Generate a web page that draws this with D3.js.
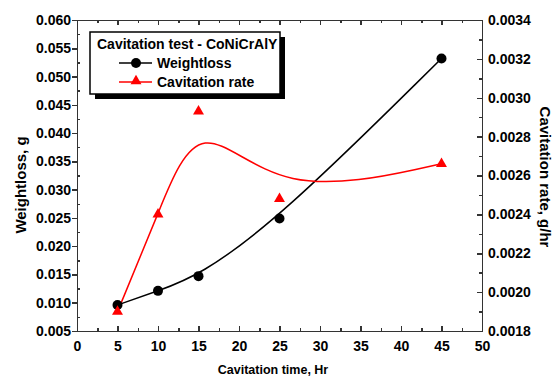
<!DOCTYPE html>
<meta charset="utf-8">
<style>

body {
  margin: 0;
  background: #fff;
}

svg {
  font-family: "Liberation Sans", Arial, sans-serif;
  font-weight: bold;
}

.axis path,
.axis line {
  stroke: #333;
  stroke-width: 1.5;
  shape-rendering: crispEdges;
}

.axis text {
  font-size: 14px;
  fill: #000;
}

.title {
  fill: #000;
}

</style>
<body>
<script src="https://cdn.jsdelivr.net/npm/d3@7"></script>
<script>

var hours = [5, 10, 15, 25, 45];
var weightloss = [0.0096, 0.0121, 0.0147, 0.0249, 0.0532];
var cavRate = [0.00190, 0.00240, 0.00293, 0.00248, 0.00266];

var xTicks = [0, 5, 10, 15, 20, 25, 30, 35, 40, 45, 50];
var yLeftTicks = [0.005, 0.010, 0.015, 0.020, 0.025, 0.030, 0.035, 0.040, 0.045, 0.050, 0.055, 0.060];
var yRightTicks = [0.0018, 0.0020, 0.0022, 0.0024, 0.0026, 0.0028, 0.0030, 0.0032, 0.0034];

var width = 559,
    height = 376,
    margin = {top: 20, right: 77, bottom: 45, left: 77};

var x = d3.scaleLinear()
    .domain([0, 50])
    .range([margin.left, width - margin.right]);

var yL = d3.scaleLinear()
    .domain([0.005, 0.060])
    .range([height - margin.bottom, margin.top]);

var yR = d3.scaleLinear()
    .domain([0.0018, 0.0034])
    .range([height - margin.bottom, margin.top]);

// minor ticks sit halfway between the major ones
function halves(t) {
  var m = [];
  for (var i = 0; i < t.length - 1; i++) m.push((t[i] + t[i + 1]) / 2);
  return m;
}

var svg = d3.select("body").append("svg")
    .attr("width", width)
    .attr("height", height);

var x0 = margin.left, x1 = width - margin.right,
    y0 = height - margin.bottom, y1 = margin.top;

// bottom
svg.append("g")
    .attr("class", "axis")
    .attr("transform", "translate(0," + y0 + ")")
    .call(d3.axisBottom(x).tickValues(halves(xTicks)).tickFormat("").tickSize(-3).tickSizeOuter(0));
svg.append("g")
    .attr("class", "axis")
    .attr("transform", "translate(0," + y0 + ")")
    .call(d3.axisBottom(x).tickValues(xTicks).tickSize(-5).tickSizeOuter(0).tickPadding(10));

// top
svg.append("g")
    .attr("class", "axis")
    .attr("transform", "translate(0," + y1 + ")")
    .call(d3.axisTop(x).tickValues(halves(xTicks)).tickFormat("").tickSize(-3).tickSizeOuter(0));
svg.append("g")
    .attr("class", "axis")
    .attr("transform", "translate(0," + y1 + ")")
    .call(d3.axisTop(x).tickValues(xTicks).tickFormat("").tickSize(-5).tickSizeOuter(0));

// left
svg.append("g")
    .attr("class", "axis")
    .attr("transform", "translate(" + x0 + ",0)")
    .call(d3.axisLeft(yL).tickValues(halves(yLeftTicks)).tickFormat("").tickSize(-3).tickSizeOuter(0));
svg.append("g")
    .attr("class", "axis")
    .attr("transform", "translate(" + x0 + ",0)")
    .call(d3.axisLeft(yL).tickValues(yLeftTicks).tickFormat(d3.format(".3f")).tickSize(5).tickSizeOuter(0).tickPadding(1));

// right
svg.append("g")
    .attr("class", "axis")
    .attr("transform", "translate(" + x1 + ",0)")
    .call(d3.axisRight(yR).tickValues(halves(yRightTicks)).tickFormat("").tickSize(-3).tickSizeOuter(0));
svg.append("g")
    .attr("class", "axis")
    .attr("transform", "translate(" + x1 + ",0)")
    .call(d3.axisRight(yR).tickValues(yRightTicks).tickFormat(d3.format(".4f")).tickSize(-5).tickSizeOuter(0).tickPadding(6));

// axis titles
svg.append("text")
    .attr("class", "title")
    .attr("x", 273)
    .attr("y", 374)
    .attr("text-anchor", "middle")
    .style("font-size", "12.5px")
    .text("Cavitation time, Hr");

svg.append("text")
    .attr("class", "title")
    .attr("transform", "translate(26," + 185 + ") rotate(-90)")
    .attr("text-anchor", "middle")
    .style("font-size", "15px")
    .text("Weightloss, g");

svg.append("text")
    .attr("class", "title")
    .attr("transform", "translate(540," + 177 + ") rotate(90)")
    .attr("text-anchor", "middle")
    .style("font-size", "15px")
    .text("Cavitation rate, g/hr");

var wl = hours.map(function(h, i) { return [h, weightloss[i]]; });
var cr = hours.map(function(h, i) { return [h, cavRate[i]]; });

var lineL = d3.line()
    .curve(d3.curveBasis)
    .x(function(d) { return x(d[0]); })
    .y(function(d) { return yL(d[1]); });

var lineR = d3.line()
    .curve(d3.curveBasis)
    .x(function(d) { return x(d[0]); })
    .y(function(d) { return yR(d[1]); });

svg.append("path")
    .datum(wl)
    .attr("fill", "none")
    .attr("stroke", "#000")
    .attr("stroke-width", 1.5)
    .attr("d", lineL);

svg.append("path")
    .datum(cr)
    .attr("fill", "none")
    .attr("stroke", "#f00")
    .attr("stroke-width", 1.5)
    .attr("d", lineR);

var tri = d3.symbol().type(d3.symbolTriangle).size(52);

svg.selectAll(".dot")
    .data(wl)
  .enter().append("circle")
    .attr("class", "dot")
    .attr("cx", function(d) { return x(d[0]); })
    .attr("cy", function(d) { return yL(d[1]); })
    .attr("r", 5)
    .attr("fill", "#000");

svg.selectAll(".tri")
    .data(cr)
  .enter().append("path")
    .attr("class", "tri")
    .attr("transform", function(d) { return "translate(" + x(d[0]) + "," + yR(d[1]) + ")"; })
    .attr("d", tri)
    .attr("fill", "#f00");

// legend
var lg = svg.append("g");

lg.append("rect")
    .attr("x", 95).attr("y", 37)
    .attr("width", 190).attr("height", 62)
    .attr("fill", "#000");

lg.append("rect")
    .attr("x", 90).attr("y", 32)
    .attr("width", 190).attr("height", 62)
    .attr("fill", "#fff")
    .attr("stroke", "#000")
    .attr("stroke-width", 1.5);

lg.append("text")
    .attr("x", 97).attr("y", 49)
    .style("font-size", "14px")
    .text("Cavitation test - CoNiCrAlY");

lg.append("line")
    .attr("x1", 119).attr("x2", 152).attr("y1", 63).attr("y2", 63)
    .attr("stroke", "#000").attr("stroke-width", 1.5);
lg.append("circle")
    .attr("cx", 136).attr("cy", 63).attr("r", 5)
    .attr("fill", "#000");
lg.append("text")
    .attr("x", 157).attr("y", 68)
    .style("font-size", "14px")
    .text("Weightloss");

lg.append("line")
    .attr("x1", 119).attr("x2", 152).attr("y1", 82).attr("y2", 82)
    .attr("stroke", "#f00").attr("stroke-width", 1.5);
lg.append("path")
    .attr("transform", "translate(136,81)")
    .attr("d", tri)
    .attr("fill", "#f00");
lg.append("text")
    .attr("x", 157).attr("y", 87)
    .attr("fill", "#000")
    .style("font-size", "14px")
    .text("Cavitation rate");

</script>
